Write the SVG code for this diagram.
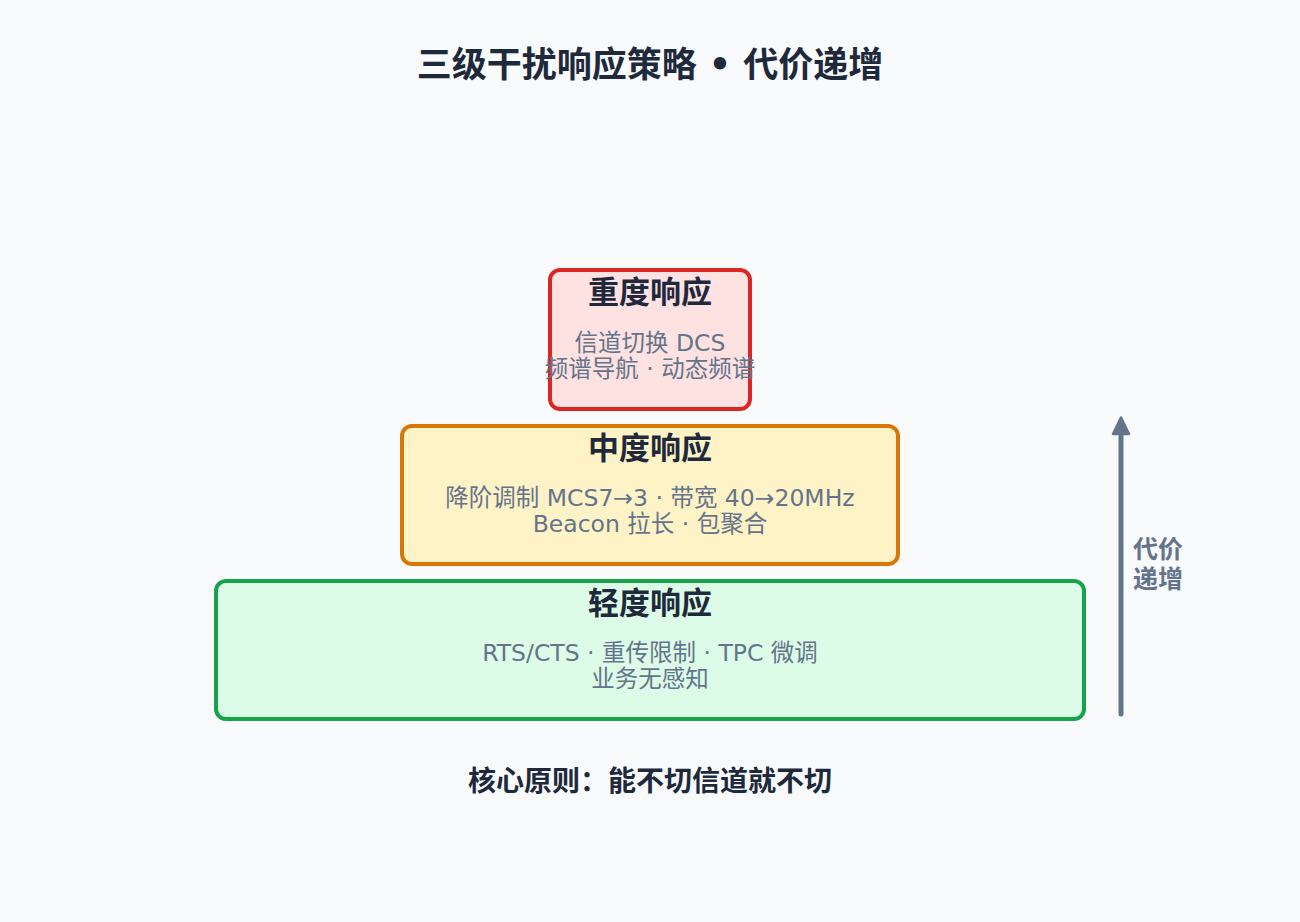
<svg xmlns="http://www.w3.org/2000/svg" width="1300" height="922" viewBox="0 0 1300 922">
<defs>
<style>
.t{font-family:"DejaVu Sans","Noto Sans CJK SC",sans-serif;text-anchor:middle}
.h{font-size:31px;font-weight:bold;fill:#1e293b}
.b{font-size:23.5px;fill:#64748b}
.box{stroke-width:4}
</style>
<marker id="ah" viewBox="0 0 10 10" refX="5" refY="5" markerWidth="4.2" markerHeight="4.2" orient="auto">
<path d="M1.2,1.2 L9,5 L1.2,8.8 Z" fill="#64748b" stroke="#64748b" stroke-width="1.2" stroke-linejoin="round"/>
</marker>
</defs>
<rect width="1300" height="922" fill="#f8fafc"/>
<text class="t" x="650" y="77" font-size="35" font-weight="bold" fill="#1e293b">三级干扰响应策略 • 代价递增</text>
<g id="heavy">
<rect class="box" x="550" y="270" width="200" height="139" rx="10" fill="#fee2e2" stroke="#dc2626"/>
<text class="t h" x="650" y="303">重度响应</text>
<text class="t b" x="650" y="351">信道切换 DCS</text>
<text class="t b" x="650" y="377">频谱导航 · 动态频谱</text>
</g>
<g id="medium">
<rect class="box" x="402" y="426" width="496" height="138" rx="10" fill="#fef3c7" stroke="#d97706"/>
<text class="t h" x="650" y="459">中度响应</text>
<text class="t b" x="650" y="506">降阶调制 MCS7→3 · 带宽 40→20MHz</text>
<text class="t b" x="650" y="532">Beacon 拉长 · 包聚合</text>
</g>
<g id="light">
<rect class="box" x="216" y="581" width="868" height="138" rx="10" fill="#dcfce7" stroke="#16a34a"/>
<text class="t h" x="650" y="614">轻度响应</text>
<text class="t b" x="650" y="661">RTS/CTS · 重传限制 · TPC 微调</text>
<text class="t b" x="650" y="687">业务无感知</text>
</g>
<g id="connectors">
<line x1="1121" y1="714" x2="1121" y2="426" stroke="#64748b" stroke-width="5" stroke-linecap="round" marker-end="url(#ah)"/>
</g>
<g id="cost-label">
<text class="t" x="1158" y="558" font-size="25" font-weight="bold" fill="#64748b">代价</text>
<text class="t" x="1158" y="588" font-size="25" font-weight="bold" fill="#64748b">递增</text>
</g>
<text class="t" x="650" y="791" font-size="28" font-weight="bold" fill="#1e293b">核心原则：能不切信道就不切</text>
</svg>
